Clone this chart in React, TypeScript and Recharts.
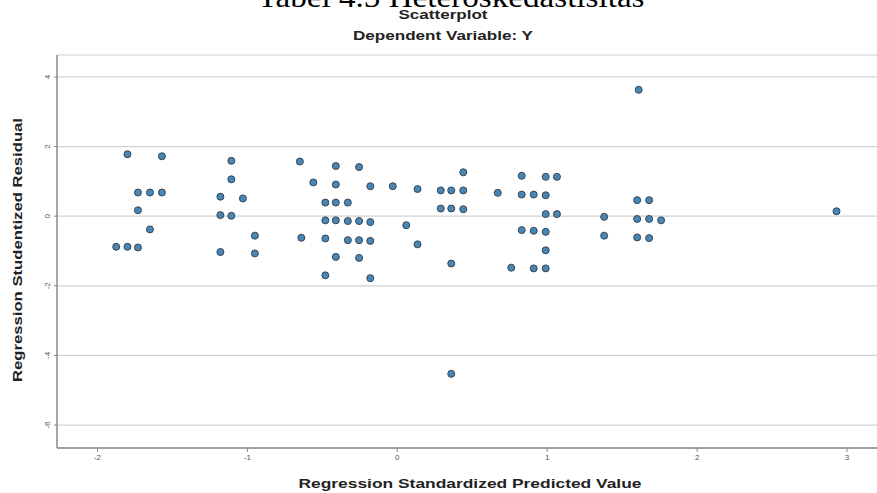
import React from "react";
import {
  ScatterChart,
  Scatter,
  XAxis,
  YAxis,
  CartesianGrid,
} from "recharts";

// standardized predicted value (x) vs studentized residual (y)
const predicted = [
  -1.8, -1.57, -1.107, -1.107, -1.73, -1.65, -1.57, -1.18, -1.03, -1.73,
  -1.18, -1.107, -1.65, -0.95, -1.875, -1.8, -1.73, -1.18, -0.95,
  -0.65, -0.41, -0.255, 0.44, -0.56, -0.41, -0.18, -0.03, 0.135, 0.29,
  0.36, 0.44, 0.67, -0.48, -0.41, -0.33, 0.29, 0.36, 0.44, -0.48, -0.41,
  -0.33, -0.255, -0.18, 0.06, -0.64, -0.48, -0.33, -0.255, -0.18, 0.135,
  -0.41, -0.255, 0.36, -0.48, -0.18,
  0.83, 0.99, 1.065, 0.83, 0.91, 0.99, 1.6, 1.68, 0.99, 1.065, 1.38, 1.6,
  1.68, 1.76, 0.83, 0.91, 0.99, 1.38, 1.6, 1.68, 0.99, 0.76, 0.91, 0.99,
  1.61, 2.93, 0.36,
];
const residual = [
  1.78, 1.72, 1.59, 1.06, 0.68, 0.68, 0.68, 0.56, 0.51, 0.17,
  0.03, 0.01, -0.38, -0.56, -0.88, -0.88, -0.9, -1.03, -1.07,
  1.57, 1.44, 1.41, 1.26, 0.97, 0.91, 0.86, 0.86, 0.78, 0.74,
  0.74, 0.74, 0.67, 0.39, 0.39, 0.39, 0.22, 0.22, 0.2, -0.12, -0.12,
  -0.14, -0.14, -0.17, -0.26, -0.62, -0.64, -0.69, -0.69, -0.71, -0.81,
  -1.17, -1.2, -1.36, -1.7, -1.78,
  1.16, 1.13, 1.13, 0.62, 0.62, 0.6, 0.46, 0.46, 0.06, 0.06, -0.02, -0.08,
  -0.08, -0.12, -0.4, -0.42, -0.45, -0.56, -0.61, -0.63, -0.98, -1.48, -1.5, -1.5,
  3.63, 0.14, -4.53,
];
const xTicks = [-2, -1, 0, 1, 2, 3];
const yTicks = [-6, -4, -2, 0, 2, 4];

const points = predicted.map((x, i) => ({ x, y: residual[i] }));

const sans = "'Liberation Sans', Arial, sans-serif";

const Dot = (props: any) => {
  const { cx, cy } = props;
  return <circle cx={cx} cy={cy} r={3.5} fill="#4a86b2" stroke="#34465a" strokeWidth={1} />;
};

const YTick = (props: any) => {
  const { x, y, payload } = props;
  return (
    <text
      x={x}
      y={y}
      transform={`rotate(-90 ${x} ${y})`}
      textAnchor="middle"
      dy={-2}
      fontSize={8}
      fontFamily={sans}
      fill="#555"
    >
      {payload.value}
    </text>
  );
};

export default function App() {
  return (
    <div style={{ position: "absolute", left: 0, top: 0, width: 877, height: 493, background: "#fff", overflow: "hidden" }}>
      <ScatterChart
        width={877}
        height={493}
        margin={{ top: 55, right: 0, bottom: 0, left: 0 }}
      >
        <CartesianGrid horizontal vertical={false} stroke="#d2d2d2" strokeWidth={1.2} />
        <XAxis
          type="number"
          dataKey="x"
          domain={[-2.27, 3.2]}
          ticks={xTicks}
          allowDataOverflow
          height={45}
          tickSize={4}
          axisLine={{ stroke: "#8a8a8a", strokeWidth: 1.5 }}
          tickLine={{ stroke: "#8a8a8a" }}
          tick={{ fontSize: 8, fill: "#555", fontFamily: sans }}
        />
        <YAxis
          type="number"
          dataKey="y"
          domain={[-6.66, 4.63]}
          ticks={yTicks}
          allowDataOverflow
          width={57}
          tickSize={3}
          axisLine={{ stroke: "#8a8a8a", strokeWidth: 1.5 }}
          tickLine={{ stroke: "#8a8a8a" }}
          tick={<YTick />}
        />
        <Scatter data={points} shape={<Dot />} isAnimationActive={false} />
      </ScatterChart>
      <svg width={877} height={493} style={{ position: "absolute", left: 0, top: 0, pointerEvents: "none" }}>
        <text x={451} y={7} textAnchor="middle" fontFamily="'Liberation Serif', 'Times New Roman', serif" fontSize={30} textLength={387} lengthAdjust="spacingAndGlyphs" fill="#000">
          Tabel 4.5 Heteroskedastisitas
        </text>
        <text x={443} y={19} textAnchor="middle" fontFamily={sans} fontWeight="bold" fontSize={13} textLength={89} lengthAdjust="spacingAndGlyphs" fill="#222">
          Scatterplot
        </text>
        <text x={443} y={40} textAnchor="middle" fontFamily={sans} fontWeight="bold" fontSize={13} textLength={180} lengthAdjust="spacingAndGlyphs" fill="#222">
          Dependent Variable: Y
        </text>
        <text x={470} y={488} textAnchor="middle" fontFamily={sans} fontWeight="bold" fontSize={13} textLength={343} lengthAdjust="spacingAndGlyphs" fill="#222">
          Regression Standardized Predicted Value
        </text>
        <text x={17} y={250} transform="rotate(-90 17 250)" textAnchor="middle" dy={5} fontFamily={sans} fontWeight="bold" fontSize={13} textLength={264} lengthAdjust="spacingAndGlyphs" fill="#222">
          Regression Studentized Residual
        </text>
      </svg>
    </div>
  );
}
